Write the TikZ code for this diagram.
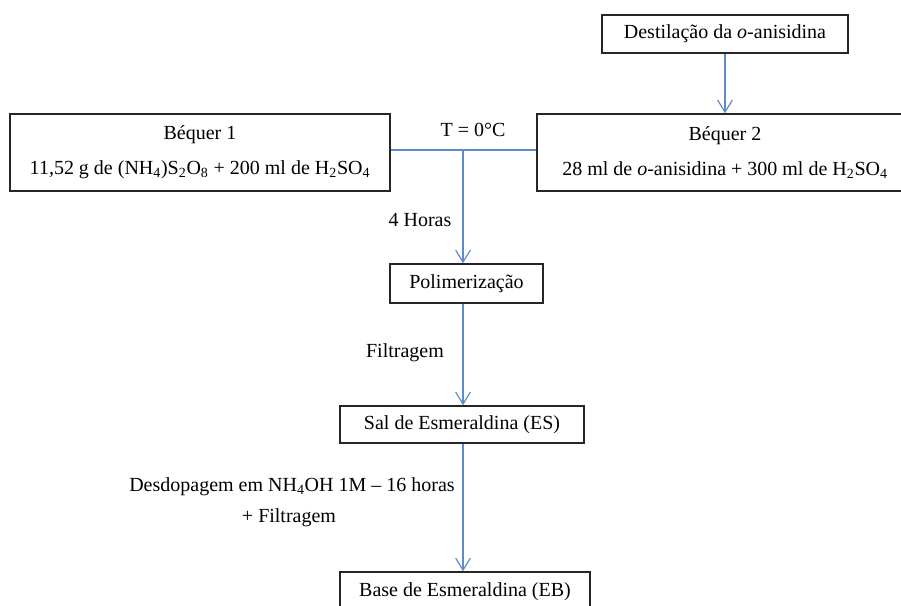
\documentclass[tikz,border=0pt]{standalone}
\usepackage{fontspec}
\setmainfont{Liberation Serif}
\usetikzlibrary{arrows.meta}
\definecolor{conn}{RGB}{95,140,200}
\tikzset{
  px/.style={x=0.75pt,y=-0.75pt},
  box/.style={draw=black!85,line width=1.1pt,inner sep=0pt,align=center,font=\fontsize{15}{17}\selectfont},
  lbl/.style={inner sep=0pt,align=center,font=\fontsize{15}{17}\selectfont},
  link/.style={draw=conn,line width=1pt},
  flow/.style={link,-{Straight Barb[length=9pt,width=11pt,line width=0.9pt]}}
}
\begin{document}
\begin{tikzpicture}[px]
\clip (0,0) rectangle (901,606);
\node[box,minimum width=246*0.75pt,minimum height=38*0.75pt] (dest) at (725,34) {Destilação da \textit{o}-anisidina};
\node[box,minimum width=380*0.75pt,minimum height=77*0.75pt] (b1) at (200,152.5) {Béquer 1\\[9pt]11,52 g de (NH\textsubscript{4})S\textsubscript{2}O\textsubscript{8} + 200 ml de H\textsubscript{2}SO\textsubscript{4}};
\node[box,minimum width=376*0.75pt,minimum height=77*0.75pt] (b2) at (725,152.5) {Béquer 2\\[9pt]28 ml de \textit{o}-anisidina + 300 ml de H\textsubscript{2}SO\textsubscript{4}};
\node[box,minimum width=153*0.75pt,minimum height=39*0.75pt] (pol) at (466.5,283.5) {Polimerização};
\node[box,minimum width=244*0.75pt,minimum height=37*0.75pt] (sal) at (462,424.5) {Sal de Esmeraldina (ES)};
\node[box,minimum width=250*0.75pt,minimum height=40*0.75pt] (base) at (465,592) {Base de Esmeraldina (EB)};
\coordinate (j) at (463,150);
\node[lbl] (t) at (473,130) {T = 0°C};
\node[lbl] (h4) at (420,220) {4 Horas};
\node[lbl] (filt) at (405,353) {Filtragem};
\node[lbl] (desd) at (292,487) {Desdopagem em NH\textsubscript{4}OH 1M -- 16 horas};
\node[lbl] (filt2) at (289,518) {+ Filtragem};
\draw[flow] (dest.south) -- (dest.south |- b2.north);
\draw[link] (b1.east |- j) -- (b2.west |- j);
\draw[flow] (j) -- (j |- pol.north);
\draw[flow] (j |- pol.south) -- (j |- sal.north);
\draw[flow] (j |- sal.south) -- (j |- base.north);
\end{tikzpicture}
\end{document}
